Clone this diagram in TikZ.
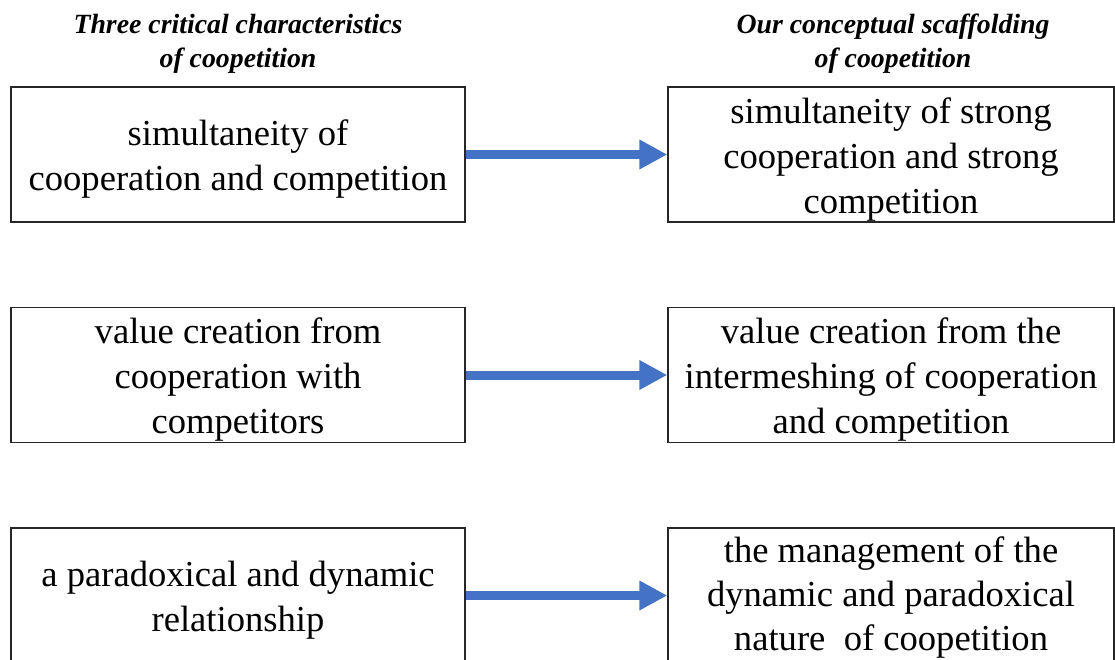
\documentclass[tikz,border=0pt]{standalone}
\usepackage{fontspec}
\setmainfont{Liberation Serif}
\usetikzlibrary{arrows.meta}
\definecolor{arrowblue}{RGB}{68,114,196}
\tikzset{
  box/.style={draw=black!85, line width=1.5pt, rectangle, inner sep=0pt, minimum height=135pt},
  lbox/.style={box, minimum width=454pt},
  rbox/.style={box, minimum width=446pt},
  btext/.style={align=center, inner sep=0pt, yshift=-5pt, font=\fontsize{36.6}{45}\selectfont},
  head/.style={align=center, font=\fontsize{27.8}{34}\selectfont\bfseries\itshape},
  bigarrow/.style={draw=arrowblue, line width=9pt, -{Triangle[length=28pt,width=28pt]}}
}
\begin{document}
\begin{tikzpicture}[x=1pt,y=-1pt]
\useasboundingbox (0,0) rectangle (1115,659);
\node[head] (hl) at (238,44) {Three critical characteristics\\of coopetition};
\node[head] (hr) at (893,44) {Our conceptual scaffolding\\of coopetition};

\node[lbox] (l1) at (238,154.5) {};
\node[lbox] (l2) at (238,375) {};
\node[lbox] (l3) at (238,595.5) {};
\node[rbox] (r1) at (891,154.5) {};
\node[rbox] (r2) at (891,375) {};
\node[rbox] (r3) at (891,595.5) {};

\node[btext] (l1t) at (l1) {simultaneity of\\cooperation and competition};
\node[btext] (l2t) at (l2) {value creation from\\cooperation with\\competitors};
\node[btext] (l3t) at (l3) {a paradoxical and dynamic\\relationship};
\node[btext] (r1t) at (r1) {simultaneity of strong\\cooperation and strong\\competition};
\node[btext] (r2t) at (r2) {value creation from the\\intermeshing of cooperation\\and competition};
\node[btext, yshift=3pt, font=\fontsize{36.6}{44}\selectfont] (r3t) at (r3) {the management of the\\dynamic and paradoxical\\nature\ \ of coopetition};

\draw[bigarrow] (l1.east) -- (r1.west);
\draw[bigarrow] (l2.east) -- (r2.west);
\draw[bigarrow] (l3.east) -- (r3.west);
\end{tikzpicture}
\end{document}
